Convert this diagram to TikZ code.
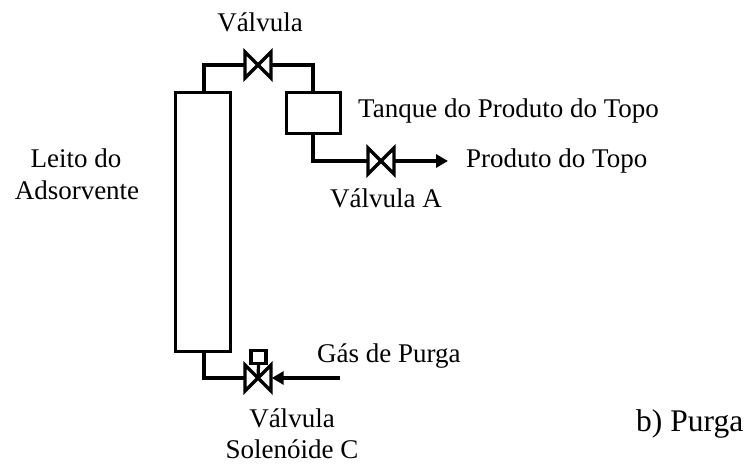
\documentclass[tikz,border=0pt]{standalone}
\usepackage{fontspec}
\setmainfont{Liberation Serif}
\usetikzlibrary{arrows.meta,calc}
\tikzset{
  pipe/.style={draw=black,line width=3.2pt,line join=miter},
  flowarrow/.style={pipe,-{Triangle[length=12pt,width=13pt]}},
  lbl/.style={font=\fontsize{27}{32}\selectfont,inner sep=0pt,text=black,anchor=base},
  equip/.style={draw=black,line width=3.2pt,inner sep=0pt,minimum size=0pt},
  pt/.style={inner sep=0pt,minimum size=27pt},
}
\newcommand{\valvedraw}[1]{%
  \draw[pipe,fill=white] ($(#1)+(-13,-13)$) -- ($(#1)+(13,13)$) -- ($(#1)+(13,-13)$) -- ($(#1)+(-13,13)$) -- cycle;}
\begin{document}
\begin{tikzpicture}[x=1pt,y=-1pt]
\useasboundingbox (0,0) rectangle (750,465);
% equipment
\node[equip,minimum width=55pt,minimum height=259pt] (column) at (203,222) {};
\node[equip,minimum width=54pt,minimum height=41pt] (tank) at (313.5,113) {};
\node[pt] (v1) at (258,65) {};
\node[pt] (v2) at (381,161) {};
\node[pt] (v3) at (258,378) {};
\node[equip,minimum width=15pt,minimum height=13pt] (sol) at (258.5,357) {};
\coordinate (outend) at (448,161);
\coordinate (purgestart) at (340,378);
% connectors
\draw[pipe] (column.north -| 204,0) -- (204,65) -- (v1.west);
\draw[pipe] (v1.east) -- (313,65) -- (tank.north -| 313,0);
\draw[pipe] (tank.south -| 313,0) -- (313,161) -- (v2.west);
\draw[flowarrow] (v2.east) -- (outend);
\draw[pipe] (column.south -| 204,0) -- (204,378) -- (v3.west);
\draw[flowarrow] (purgestart) -- (v3.east);
% valves
\valvedraw{v1}
\valvedraw{v2}
\valvedraw{v3}
\draw[pipe] (sol.south) -- (v3.center);
% labels
\node[lbl] (t1) at (260,32) {Válvula};
\node[lbl,anchor=base west] (t2) at (358,118) {Tanque do Produto do Topo};
\node[lbl,anchor=base west] (t3) at (466,168) {Produto do Topo};
\node[lbl] (t4) at (386,208) {Válvula A};
\node[lbl] (t5) at (76,168) {Leito do};
\node[lbl] (t6) at (77,200) {Adsorvente};
\node[lbl,anchor=base west] (t7) at (317,362) {Gás de Purga};
\node[lbl] (t8) at (292,427) {Válvula};
\node[lbl] (t9) at (292,458) {Solenóide C};
\node[lbl,anchor=base west,font=\fontsize{31.5}{36}\selectfont] (t10) at (636,431) {b) Purga};
\end{tikzpicture}
\end{document}
